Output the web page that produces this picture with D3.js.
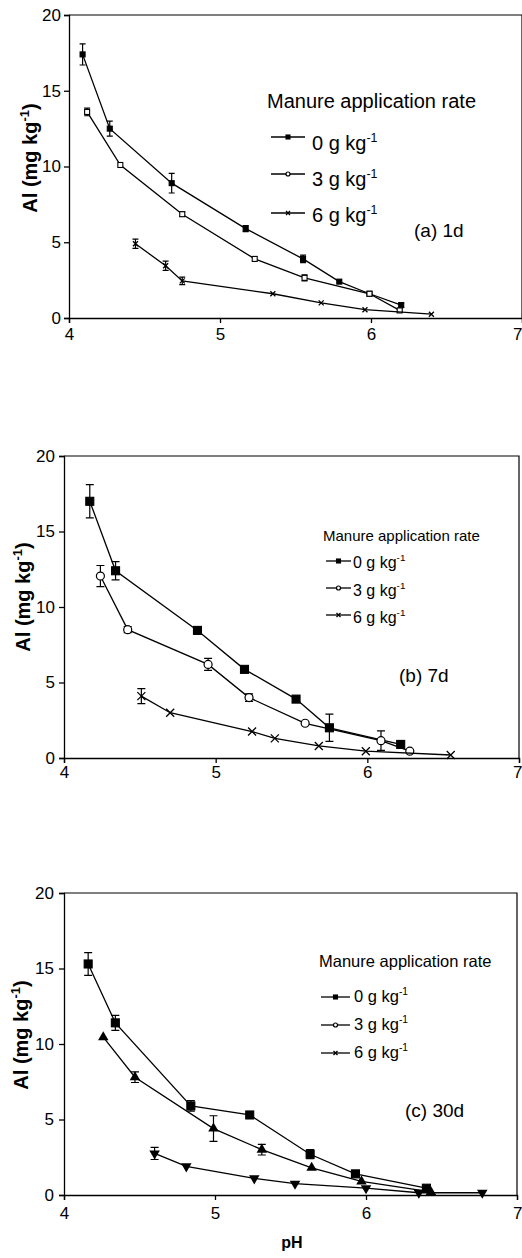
<!DOCTYPE html>
<html>
<head>
<meta charset="utf-8" />
<title>Al vs pH</title>
<style>
    body { margin: 0; background: #fff; }
    svg { display: block; }
    text { font-family: "Liberation Sans", Arial, sans-serif; fill: #000; }
</style>
</head>
<body>
<div id="chart"></div>
<script src="https://cdn.jsdelivr.net/npm/d3@7"></script>
<script>
// ---- data ----
const pHTicks = [4, 5, 6, 7];
const alTicks = [0, 5, 10, 15, 20];
const rateNames = ["0 g kg", "3 g kg", "6 g kg"];
const panelNames = ["(a) 1d", "(b) 7d", "(c) 30d"];

// (a) 1 day
const a0_pH = [4.09, 4.27, 4.68, 5.17, 5.55, 5.79, 5.99, 6.20];
const a0_al = [17.4, 12.5, 8.9, 5.9, 3.9, 2.4, 1.6, 0.85];
const a0_se = [0.7, 0.5, 0.65, 0.2, 0.25, 0, 0, 0.15];
const a1_pH = [4.12, 4.34, 4.75, 5.23, 5.56, 5.99, 6.19];
const a1_al = [13.6, 10.1, 6.85, 3.9, 2.65, 1.6, 0.5];
const a1_se = [0.25, 0, 0.15, 0, 0.2, 0, 0.1];
const a2_pH = [4.44, 4.64, 4.75, 5.35, 5.67, 5.96, 6.40];
const a2_al = [4.9, 3.45, 2.45, 1.6, 1.0, 0.55, 0.25];
const a2_se = [0.3, 0.3, 0.25, 0, 0, 0, 0];

// (b) 7 days
const b0_pH = [4.17, 4.34, 4.88, 5.19, 5.53, 5.75, 6.22];
const b0_al = [17.0, 12.4, 8.45, 5.87, 3.9, 2.0, 0.9];
const b0_se = [1.1, 0.6, 0, 0, 0, 0.9, 0];
const b1_pH = [4.24, 4.42, 4.95, 5.22, 5.59, 6.09, 6.28];
const b1_al = [12.05, 8.5, 6.2, 4.0, 2.3, 1.15, 0.45];
const b1_se = [0.7, 0.2, 0.4, 0.25, 0, 0.65, 0];
const b2_pH = [4.51, 4.70, 5.24, 5.39, 5.68, 5.99, 6.55];
const b2_al = [4.1, 3.0, 1.75, 1.3, 0.8, 0.45, 0.2];
const b2_se = [0.5, 0, 0, 0, 0, 0, 0];

// (c) 30 days
const c0_pH = [4.16, 4.34, 4.84, 5.23, 5.63, 5.93, 6.40];
const c0_al = [15.3, 11.4, 5.9, 5.3, 2.7, 1.4, 0.45];
const c0_se = [0.75, 0.5, 0.35, 0, 0.3, 0, 0];
const c1_pH = [4.26, 4.47, 4.99, 5.31, 5.64, 5.97, 6.43];
const c1_al = [10.45, 7.8, 4.4, 3.0, 1.8, 0.9, 0.2];
const c1_se = [0, 0.35, 0.85, 0.35, 0, 0, 0];
const c2_pH = [4.60, 4.81, 5.26, 5.53, 6.00, 6.35, 6.77];
const c2_al = [2.75, 1.9, 1.1, 0.75, 0.45, 0.15, 0.15];
const c2_se = [0.4, 0, 0, 0, 0, 0, 0];

function zipSeries(pH, al, se) {
    return pH.map((p, i) => ({ pH: p, al: al[i], se: se[i] }));
}

const width = 522, height = 1258;
const svg = d3.select("#chart").append("svg")
    .attr("width", width)
    .attr("height", height);

// layout of each panel
const panels = [
    {
        label: panelNames[0], left: 69, right: 522, top: 15, bottom: 318,
        xPad: 5, yPad: 3, ylabX: 37, ylabY: 158,
        series: [zipSeries(a0_pH, a0_al, a0_se), zipSeries(a1_pH, a1_al, a1_se), zipSeries(a2_pH, a2_al, a2_se)],
        marks: ["sq", "osq", "x"], mSize: 5, cap: 3,
        leg: { x: 267, ty: 108, fs: 20, efs: 20, lx0: 271, lx1: 305, ly: [137, 174, 213], tx: 312, tby: [150, 186, 222] },
        tag: { x: 414, y: 237, fs: 19 }
    },
    {
        label: panelNames[1], left: 64, right: 519, top: 456, bottom: 758,
        xPad: 3, yPad: 4, ylabX: 30, ylabY: 597,
        series: [zipSeries(b0_pH, b0_al, b0_se), zipSeries(b1_pH, b1_al, b1_se), zipSeries(b2_pH, b2_al, b2_se)],
        marks: ["sq", "oc", "x"], mSize: 8, cap: 4,
        leg: { x: 323, ty: 541, fs: 15, efs: 16, lx0: 326, lx1: 351, ly: [561, 588, 615], tx: 353, tby: [568, 596, 623] },
        tag: { x: 399, y: 682, fs: 19 }
    },
    {
        label: panelNames[2], left: 64, right: 517, top: 893, bottom: 1195,
        xPad: 7, yPad: 5, ylabX: 28, ylabY: 1035,
        series: [zipSeries(c0_pH, c0_al, c0_se), zipSeries(c1_pH, c1_al, c1_se), zipSeries(c2_pH, c2_al, c2_se)],
        marks: ["sq", "tu", "td"], mSize: 8, cap: 4,
        leg: { x: 319, ty: 967, fs: 16.5, efs: 16.5, lx0: 321, lx1: 350, ly: [997, 1025, 1053], tx: 354, tby: [1002, 1030, 1058] },
        tag: { x: 405, y: 1117, fs: 19 }
    }
];

function drawMark(g, type, cx, cy, s) {
    if (type === "sq" || type === "osq") {
        g.append("rect")
            .attr("x", cx - s / 2).attr("y", cy - s / 2)
            .attr("width", s).attr("height", s)
            .attr("fill", type === "sq" ? "#000" : "#fff")
            .attr("stroke", "#000").attr("stroke-width", 1.1);
    } else if (type === "oc") {
        g.append("circle")
            .attr("cx", cx).attr("cy", cy).attr("r", s / 2)
            .attr("fill", "#fff").attr("stroke", "#000").attr("stroke-width", 1.2);
    } else if (type === "x") {
        const h = s / 2;
        g.append("path")
            .attr("d", `M${cx - h},${cy - h}L${cx + h},${cy + h}M${cx - h},${cy + h}L${cx + h},${cy - h}`)
            .attr("stroke", "#000").attr("stroke-width", 1.3);
    } else {
        const tri = d3.symbol().type(d3.symbolTriangle).size(s * s * 0.75)();
        g.append("path")
            .attr("d", tri)
            .attr("transform", `translate(${cx},${cy})` + (type === "td" ? " rotate(180)" : ""))
            .attr("fill", "#000");
    }
}

panels.forEach(p => {
    const x = d3.scaleLinear().domain([4, 7]).range([p.left, p.right]);
    const y = d3.scaleLinear().domain([0, 20]).range([p.bottom, p.top]);
    const g = svg.append("g");

    // frame (top + right)
    g.append("path")
        .attr("d", `M${p.left},${p.top}H${p.right}V${p.bottom}`)
        .attr("fill", "none").attr("stroke", "#000").attr("stroke-width", 1.2);

    const xAxis = g.append("g")
        .attr("transform", `translate(0,${p.bottom})`)
        .call(d3.axisBottom(x).tickValues(pHTicks).tickSize(5).tickPadding(p.xPad).tickFormat(d3.format("d")));
    const yAxis = g.append("g")
        .attr("transform", `translate(${p.left},0)`)
        .call(d3.axisLeft(y).tickValues(alTicks).tickSize(5).tickPadding(p.yPad).tickFormat(d3.format("d")));
    [xAxis, yAxis].forEach(a => {
        a.selectAll("path, line").attr("stroke", "#000").attr("stroke-width", 1.3);
        a.selectAll("text").attr("font-size", 17).attr("font-family", "Liberation Sans, Arial, sans-serif").attr("fill", "#000");
    });
    // last pH label sits at the page edge: keep it inside
    xAxis.selectAll(".tick text").filter(d => d === 7)
        .attr("text-anchor", "end")
        .attr("x", width - 1 - x(7) + 1);

    // y label
    const yl = g.append("text")
        .attr("transform", `translate(${p.ylabX},${p.ylabY}) rotate(-90)`)
        .attr("text-anchor", "middle")
        .attr("font-size", 20).attr("font-weight", "bold");
    yl.append("tspan").text("Al (mg kg");
    yl.append("tspan").attr("font-size", 13).attr("dy", -8).text("-1");
    yl.append("tspan").attr("dy", 8).text(")");

    // series
    const line = d3.line().x(d => x(d.pH)).y(d => y(d.al));
    p.series.forEach((s, si) => {
        g.append("path")
            .attr("d", line(s))
            .attr("fill", "none").attr("stroke", "#000").attr("stroke-width", 1.3);
        const eg = g.append("g").attr("stroke", "#000").attr("stroke-width", 1.2);
        s.filter(d => d.se > 0).forEach(d => {
            const cx = x(d.pH), y0 = y(d.al - d.se), y1 = y(d.al + d.se);
            eg.append("path")
                .attr("d", `M${cx},${y0}V${y1}M${cx - p.cap},${y0}H${cx + p.cap}M${cx - p.cap},${y1}H${cx + p.cap}`)
                .attr("fill", "none");
        });
        const mg = g.append("g");
        s.forEach(d => drawMark(mg, p.marks[si], x(d.pH), y(d.al), p.mSize));
    });

    // legend
    const L = p.leg;
    g.append("text").attr("x", L.x).attr("y", L.ty).attr("font-size", L.fs).text("Manure application rate");
    const legMarks = ["sq", "oc", "x"];
    rateNames.forEach((name, i) => {
        g.append("line")
            .attr("x1", L.lx0).attr("x2", L.lx1).attr("y1", L.ly[i]).attr("y2", L.ly[i])
            .attr("stroke", "#000").attr("stroke-width", 1.3);
        drawMark(g, legMarks[i], (L.lx0 + L.lx1) / 2, L.ly[i], 4);
        const t = g.append("text").attr("x", L.tx).attr("y", L.tby[i]).attr("font-size", L.efs);
        t.append("tspan").text(name);
        t.append("tspan").attr("font-size", L.efs * 0.62).attr("dy", -L.efs * 0.42).text("-1");
    });

    g.append("text").attr("x", p.tag.x).attr("y", p.tag.y).attr("font-size", p.tag.fs).text(p.label);
});

// x-axis title only under last panel
svg.append("text")
    .attr("x", 292).attr("y", 1248)
    .attr("text-anchor", "middle")
    .attr("font-size", 16).attr("font-weight", "bold")
    .text("pH");
</script>
</body>
</html>
